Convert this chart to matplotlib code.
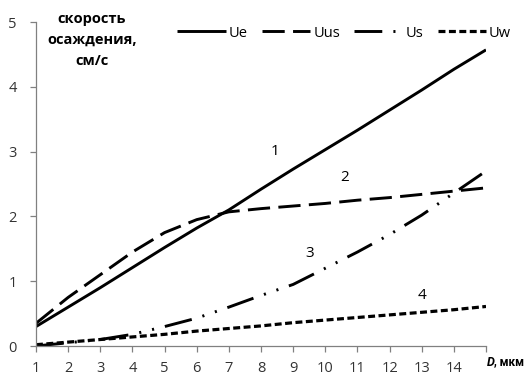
import matplotlib
matplotlib.use('Agg')
import matplotlib.pyplot as plt
import numpy as np

plt.rcParams['font.family'] = ['Open Sans', 'DejaVu Sans']
plt.rcParams['lines.scale_dashes'] = False

# diameter, um
D = list(range(1, 16))
# settling speeds, cm/s
Ue = [0.30, 0.60, 0.90, 1.21, 1.52, 1.82, 2.10, 2.42, 2.73, 3.03, 3.33, 3.64, 3.95, 4.27, 4.57]
Uus = [0.35, 0.75, 1.10, 1.45, 1.75, 1.95, 2.07, 2.12, 2.16, 2.20, 2.25, 2.29, 2.34, 2.39, 2.44]
Us = [0.00, 0.05, 0.10, 0.18, 0.30, 0.43, 0.60, 0.78, 0.95, 1.20, 1.45, 1.72, 2.02, 2.36, 2.70]
Uw = [0.02, 0.06, 0.10, 0.14, 0.18, 0.23, 0.27, 0.31, 0.36, 0.40, 0.44, 0.48, 0.52, 0.56, 0.61]

tick_labels = [str(i) for i in range(1, 15)] + ['']

W, H = 526, 378
fig = plt.figure(figsize=(W / 100, H / 100), dpi=100)
ax = fig.add_axes([36 / W, 32 / H, 450 / W, 324 / H])

ax.plot(D, Ue, color='black', lw=2.1, solid_capstyle='butt', label='Ue')
ax.plot(D, Uus, color='black', lw=2.1, linestyle=(0, (16, 6)), label='Uus')
ax.plot(D, Us, color='black', lw=2.1, linestyle=(0, (20, 8, 1.5, 8, 1.5, 8)), label='Us')
ax.plot(D, Uw, color='black', lw=2.3, linestyle=(0, (5, 2.5)), label='Uw')

ax.set_xlim(1, 15)
ax.set_ylim(0, 5)
ax.set_xticks(D)
ax.set_xticklabels(tick_labels)
ax.set_yticks([0, 1, 2, 3, 4, 5])

for s in ['top', 'right']:
    ax.spines[s].set_visible(False)
for s in ['left', 'bottom']:
    ax.spines[s].set_color('#808080')
    ax.spines[s].set_linewidth(0.9)
ax.tick_params(axis='both', colors='#808080', labelcolor='#333333', labelsize=10.5,
               length=4, width=0.9, direction='out')
ax.tick_params(axis='x', pad=7)
ax.tick_params(axis='y', pad=10)

# curve numbers
ax.text(8.45, 3.0, '1', fontsize=11, ha='center', va='center')
ax.text(10.6, 2.60, '2', fontsize=11, ha='center', va='center')
ax.text(9.5, 1.43, '3', fontsize=11, ha='center', va='center')
ax.text(13.0, 0.78, '4', fontsize=11, ha='center', va='center')

# axis titles
fig.text(92 / W, 1 - 40 / H, 'скорость\nосаждения,\nсм/с', fontsize=10.5, fontweight='bold',
         ha='center', va='center', linespacing=1.65)
fig.text(487 / W, 1 - 362 / H, 'D', fontsize=9, fontweight='bold', fontstyle='italic',
         family='Roboto', ha='left', va='center')
fig.text(494 / W, 1 - 362 / H, ', мкм', fontsize=8.5, fontweight='bold',
         family='Roboto', ha='left', va='center')

ax.legend(loc='center', bbox_to_anchor=(0.685, 0.966), ncol=4, frameon=False,
          fontsize=10.5, handlelength=3.3, handletextpad=0.2, columnspacing=1.0)

fig.savefig('out.png', dpi=100)
